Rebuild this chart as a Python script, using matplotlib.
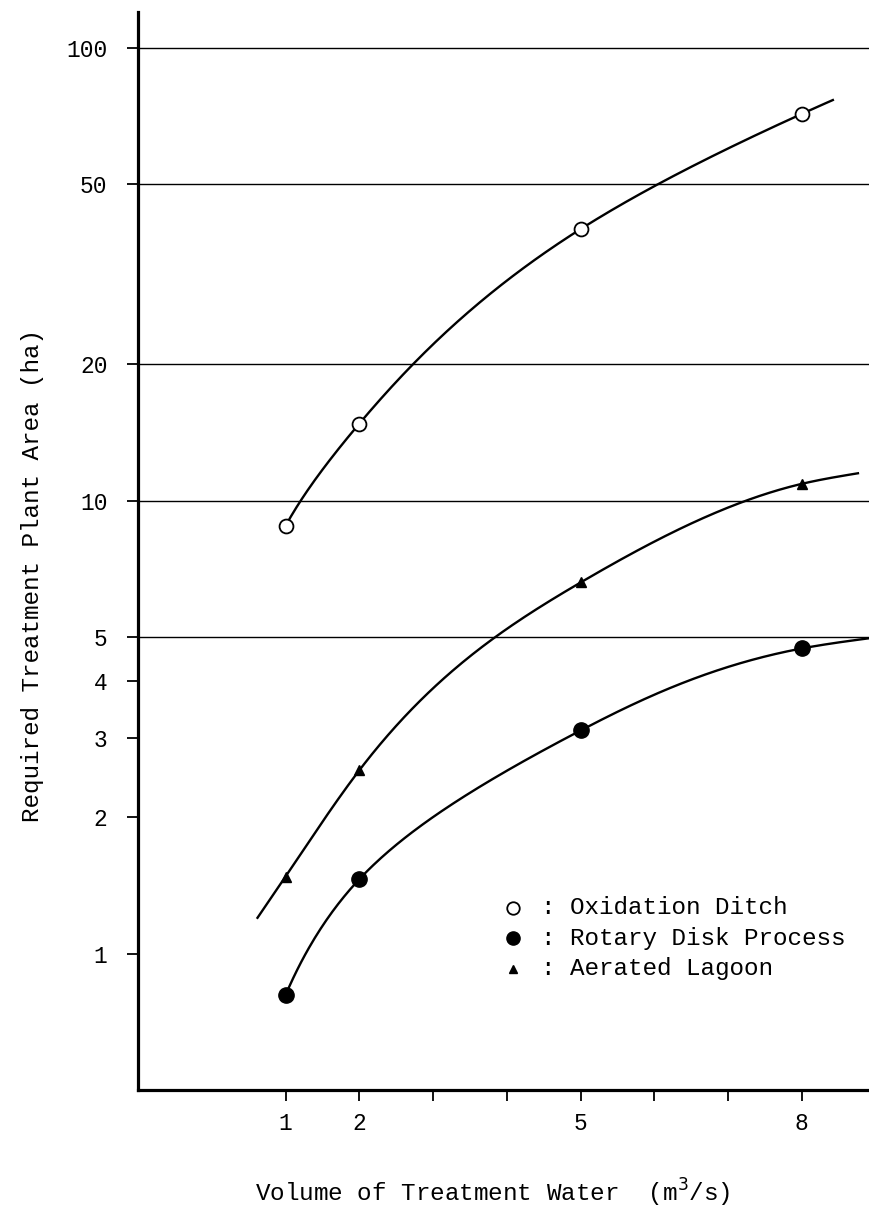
import numpy as np
import matplotlib
matplotlib.use("Agg")
import matplotlib.pyplot as plt
from matplotlib.ticker import NullLocator

plt.rcParams['font.family'] = ['Liberation Mono', 'DejaVu Sans Mono']

# measured points (volume m3/s -> area ha)
volume = [1, 2, 5, 8]
oxidation = [8.8, 14.8, 39.8, 71.5]
rotary = [0.81, 1.46, 3.11, 4.72]
lagoon = [1.48, 2.54, 6.6, 10.9]

# points the hand drawn curves pass through (incl. where they start / stop)
ox_curve_x = [1, 2, 5, 8, 8.42]
ox_curve_y = [8.8, 14.8, 39.8, 71.5, 76.7]
rot_curve_x = [1, 2, 5, 8, 8.91]
rot_curve_y = [0.81, 1.46, 3.11, 4.72, 4.97]
aer_curve_x = [0.62, 1, 2, 5, 8, 8.76]
aer_curve_y = [1.2, 1.48, 2.54, 6.6, 10.9, 11.5]

y_ticks = [1, 2, 3, 4, 5, 10, 20, 50, 100]
grid_values = [5, 10, 20, 50, 100]
x_ticks = [1, 2, 3, 4, 5, 6, 7, 8]
x_labels = ["1", "2", "", "", "5", "", "", "8"]

legend_names = ["Oxidation Ditch", "Rotary Disk Process", "Aerated Lagoon"]


def smooth(xs, ys, logx=True, n=300):
    """natural cubic spline through the points, in log y (and log x) space"""
    f = np.log10 if logx else (lambda v: np.asarray(v, float))
    g = (lambda v: 10 ** v) if logx else (lambda v: v)
    x = f(np.asarray(xs, float))
    y = np.log10(np.asarray(ys, float))
    k = len(x)
    h = np.diff(x)
    d = np.diff(y) / h
    A = np.zeros((k, k))
    b = np.zeros(k)
    A[0, 0] = A[-1, -1] = 1
    for i in range(1, k - 1):
        A[i, i - 1] = h[i - 1]
        A[i, i] = 2 * (h[i - 1] + h[i])
        A[i, i + 1] = h[i]
        b[i] = 6 * (d[i] - d[i - 1])
    M = np.linalg.solve(A, b)
    xx = f(np.linspace(xs[0], xs[-1], n))
    i = np.clip(np.searchsorted(x, xx) - 1, 0, k - 2)
    a = x[i + 1] - xx
    c = xx - x[i]
    yy = (M[i] * a**3 + M[i + 1] * c**3) / (6 * h[i]) \
        + (y[i] / h[i] - M[i] * h[i] / 6) * a \
        + (y[i + 1] / h[i] - M[i + 1] * h[i] / 6) * c
    return g(xx), 10 ** yy


fig = plt.figure(figsize=(8.69, 12.08), dpi=100)
ax = fig.add_axes([138 / 869, 118 / 1208, 731 / 869, 1078 / 1208])
ax.set_yscale("log")
ax.set_xlim(-1.0, 8.91)
ax.set_ylim(0.5, 120)

# horizontal guide lines
for gv in grid_values:
    ax.axhline(gv, color="black", lw=1.0, zorder=1)

# curves
for cx, cy, lx in [(ox_curve_x, ox_curve_y, True), (rot_curve_x, rot_curve_y, True),
                   (aer_curve_x, aer_curve_y, False)]:
    xx, yy = smooth(cx, cy, logx=lx)
    ax.plot(xx, yy, color="black", lw=1.7, zorder=2, clip_on=False)

# markers
ax.plot(volume, oxidation, "o", ms=10, mfc="white", mec="black", mew=1.3, zorder=3)
ax.plot(volume, rotary, "o", ms=11, mfc="black", mec="black", zorder=3)
ax.plot(volume, lagoon, "^", ms=7.5, mfc="black", mec="black", zorder=3)

# axes look
for s in ["top", "right"]:
    ax.spines[s].set_visible(False)
ax.spines["left"].set_linewidth(2.3)
ax.spines["bottom"].set_linewidth(2.3)

ax.set_yticks(y_ticks)
ax.set_yticklabels([str(t) for t in y_ticks])
ax.yaxis.set_minor_locator(NullLocator())
ax.set_xticks(x_ticks)
ax.set_xticklabels(x_labels)
ax.tick_params(axis="y", length=8, width=1.3, pad=14, labelsize=16.5)
ax.tick_params(axis="x", length=8, width=1.3, pad=8, labelsize=16.5)

# manual legend
legend_y = [908, 938, 969]
legend_styles = [dict(marker="o", ms=9, mfc="white", mec="black", mew=1.3),
                 dict(marker="o", ms=9.5, mfc="black", mec="black"),
                 dict(marker="^", ms=6, mfc="black", mec="black")]
for name, yp, st in zip(legend_names, legend_y, legend_styles):
    fy = 1 - yp / 1208
    fig.lines.append(plt.Line2D([513 / 869], [fy], linestyle="none",
                                transform=fig.transFigure, **st))
    fig.text(541 / 869, fy, ": " + name, ha="left", va="center", fontsize=17.5)

# axis titles
fig.text(493 / 869, 1 - 1193 / 1208, "Volume of Treatment Water  (m$^3$/s)",
         ha="center", va="center", fontsize=17.5)
fig.text(33 / 869, 1 - 575 / 1208, "Required Treatment Plant Area (ha)",
         ha="center", va="center", rotation=90, fontsize=17.5)

plt.savefig("out.png", dpi=100)
